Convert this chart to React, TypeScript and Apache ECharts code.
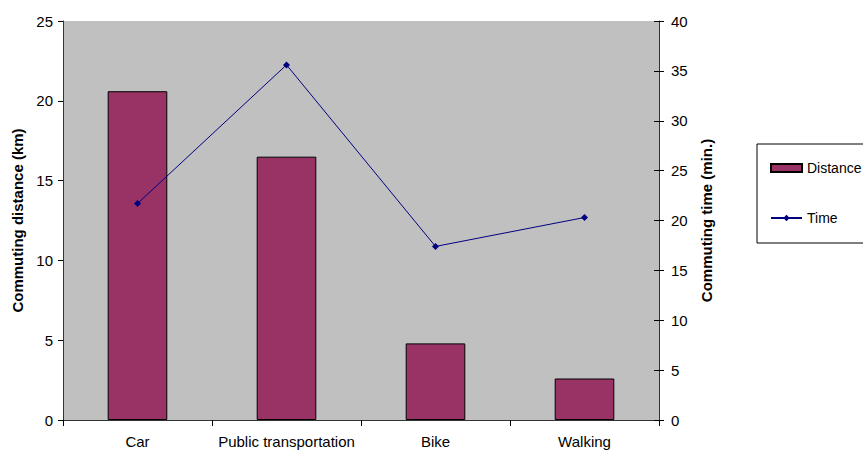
import React, { useEffect, useRef } from "react";
import * as echarts from "echarts";

const categories = ["Car", "Public transportation", "Bike", "Walking"];
const distanceKm = [20.6, 16.5, 4.8, 2.6];
const timeMin = [21.7, 35.6, 17.4, 20.3];
const leftTicks = { min: 0, max: 25, interval: 5 };
const rightTicks = { min: 0, max: 40, interval: 5 };

const FONT = "Liberation Sans, Arial, sans-serif";

export default function App() {
  const ref = useRef<HTMLDivElement>(null);
  useEffect(() => {
    if (!ref.current) return;
    const chart = echarts.init(ref.current, null, { renderer: "svg" });
    const axisLine = { show: true, lineStyle: { color: "#333", width: 1 } };
    const titleStyle = { fontSize: 15, fontWeight: "bold", color: "#000", fontFamily: FONT };
    const labelStyle = { fontSize: 15, color: "#000", fontFamily: FONT };
    chart.setOption({
      animation: false,
      textStyle: { fontFamily: FONT },
      grid: {
        left: 63,
        top: 21,
        width: 596,
        height: 399,
        show: true,
        backgroundColor: "#c0c0c0",
        borderWidth: 0,
      },
      legend: {
        orient: "vertical",
        left: 765,
        top: 156,
        itemWidth: 31,
        itemHeight: 8,
        itemGap: 36,
        itemTextGap: 6,
        textStyle: { fontFamily: FONT, fontSize: 14, color: "#000" },
        data: [
          { name: "Distance", icon: "rect" },
          { name: "Time" },
        ],
      },
      graphic: [
        {
          type: "rect",
          shape: { x: 757, y: 144, width: 130, height: 99 },
          style: { fill: "none", stroke: "#000", lineWidth: 1 },
          z: 100,
        },
      ],
      xAxis: {
        type: "category",
        data: categories,
        axisLine,
        axisTick: { show: true, length: 6, lineStyle: { color: "#000" } },
        axisLabel: { ...labelStyle, interval: 0, margin: 14 },
      },
      yAxis: [
        {
          type: "value",
          position: "left",
          ...leftTicks,
          name: "Commuting distance (km)",
          nameLocation: "middle",
          nameRotate: 90,
          nameGap: 38,
          nameTextStyle: titleStyle,
          axisLine,
          axisTick: { show: true, length: 5, lineStyle: { color: "#000" } },
          axisLabel: { ...labelStyle, margin: 10 },
          splitLine: { show: false },
        },
        {
          type: "value",
          position: "right",
          ...rightTicks,
          name: "Commuting time (min.)",
          nameLocation: "middle",
          nameRotate: 90,
          nameGap: 36,
          nameTextStyle: titleStyle,
          axisLine,
          axisTick: { show: true, length: 5, lineStyle: { color: "#000" } },
          axisLabel: { ...labelStyle, margin: 12 },
          splitLine: { show: false },
        },
        {
          type: "value",
          position: "right",
          ...rightTicks,
          axisLine: { show: false },
          axisTick: { show: true, inside: true, length: 5, lineStyle: { color: "#000" } },
          axisLabel: { show: false },
          splitLine: { show: false },
        },
      ],
      series: [
        {
          name: "Distance",
          type: "bar",
          yAxisIndex: 0,
          data: distanceKm,
          barWidth: "40%",
          itemStyle: { color: "#993366", borderColor: "#000", borderWidth: 1 },
        },
        {
          name: "Time",
          type: "line",
          yAxisIndex: 1,
          data: timeMin,
          symbol: "diamond",
          symbolSize: 7,
          lineStyle: { color: "#000080", width: 1 },
          itemStyle: { color: "#000080" },
        },
      ],
    });
    return () => chart.dispose();
  }, []);
  return (
    <div
      ref={ref}
      style={{ position: "fixed", left: 0, top: 0, width: 863, height: 450, background: "#fff" }}
    />
  );
}
